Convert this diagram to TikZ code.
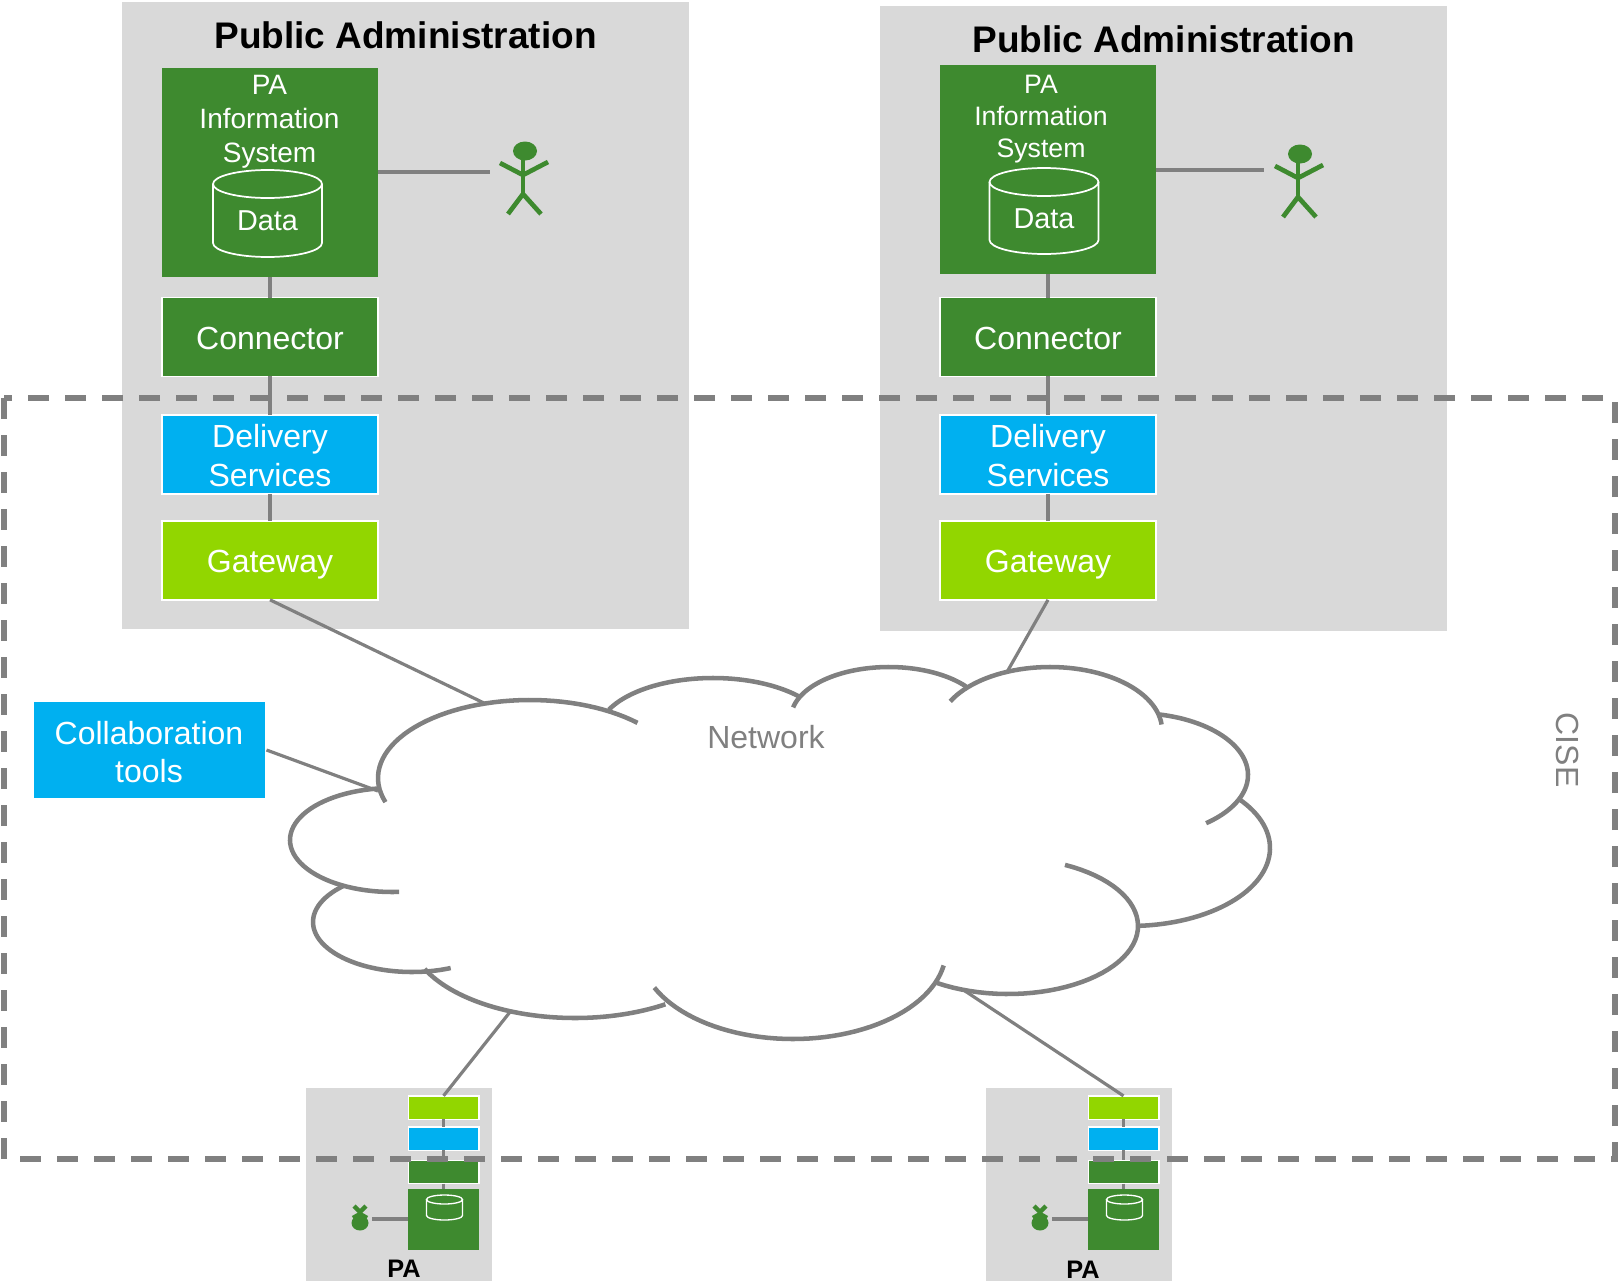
\documentclass[tikz,border=0pt]{standalone}
\usepackage{fontspec}
\setmainfont{Liberation Sans}
\definecolor{pagrey}{HTML}{D9D9D9}
\definecolor{pagreen}{HTML}{3E8A2F}
\definecolor{pablue}{HTML}{00B0F0}
\definecolor{palime}{HTML}{92D600}
\definecolor{paline}{HTML}{808080}
\tikzset{
  boxbase/.style={draw=white,line width=1.1pt,inner sep=0pt,outer sep=0pt,text=white,align=center,font=\fontsize{24}{29.2}\selectfont},
  greenbox/.style={boxbase,fill=pagreen},
  bluebox/.style={boxbase,fill=pablue},
  limebox/.style={boxbase,fill=palime},
  oneline/.style={text height=18.6pt,text depth=0pt},
  isbox/.style={fill=pagreen,draw=none,inner sep=0pt,outer sep=0pt},
  wide/.style={minimum width=162pt,minimum height=59pt},
  mini/.style={minimum width=53pt,minimum height=17.5pt,line width=1pt},
  link/.style={draw=paline,line width=2.8pt},
  cloudline/.style={draw=paline,line width=3.4pt},
  thinlink/.style={draw=paline,line width=2.4pt},
  cyl/.style={draw=white,line width=1.3pt},
  actorline/.style={draw=pagreen,line width=3.5pt},
  title/.style={font=\fontsize{27.75}{32}\bfseries\selectfont,text=black,inner sep=0pt},
  small/.style={font=\fontsize{19}{22}\bfseries\selectfont,text=black,inner sep=0pt},
  whitetext/.style={text=white,align=center,inner sep=0pt},
  greytext/.style={text=paline,inner sep=0pt,font=\fontsize{24}{28}\selectfont},
}
\newcommand{\lobe}[6]{\draw[cloudline,domain=#5:#6,samples=48,variable=\t] plot ({#1+#3*cos(\t)},{#2+#4*sin(\t)});}
\newcommand{\bigactor}[2]{%
  \fill[pagreen] (#1+2,#2) ellipse [x radius=12, y radius=9.5];
  \draw[actorline] (#1,#2) -- (#1,#2+44);
  \draw[actorline] (#1-23,#2+12) -- (#1,#2+24) -- (#1+25,#2+11);
  \draw[actorline] (#1-15,#2+63) -- (#1,#2+43) -- (#1+18,#2+63);
}
\newcommand{\smallactor}[2]{%
  \fill[pagreen] (#1,#2+18) ellipse [x radius=8.5, y radius=7.5];
  \draw[actorline,line width=3.4pt] (#1,#2+13) -- (#1,#2+6);
  \draw[actorline,line width=3.4pt] (#1-6,#2+1) -- (#1,#2+7) -- (#1+6,#2+1);
  \draw[actorline,line width=3.4pt] (#1-7,#2+13) -- (#1,#2+9) -- (#1+7,#2+13);
}
\newcommand{\cylinder}[6]{% cx, top, bottom, rx, ry, line style
  \draw[cyl,#6] (#1-#4,#2+#5) -- (#1-#4,#3-#5) .. controls (#1-#4,#3-#5*0.45) and (#1-#4*0.55,#3) .. (#1,#3)
     .. controls (#1+#4*0.55,#3) and (#1+#4,#3-#5*0.45) .. (#1+#4,#3-#5) -- (#1+#4,#2+#5);
  \draw[cyl,#6] (#1,#2+#5) ellipse [x radius=#4, y radius=#5];
}
\begin{document}
\begin{tikzpicture}[x=0.75pt,y=-0.75pt]
\useasboundingbox (0,0) rectangle (1619,1281);
% zones
\fill[pagrey] (122,2) rectangle (689,629);
\fill[pagrey] (880,6) rectangle (1447,631);
\fill[pagrey] (306,1088) rectangle (492,1281);
\fill[pagrey] (986,1088) rectangle (1172,1281);
\node[title] (t1) at (405.5,35) {Public Administration};
\node[title] (t2) at (1163.5,39) {Public Administration};
% cloud anchor points
\coordinate (cloudA) at (484,703);
\coordinate (cloudB) at (1007,672);
\coordinate (cloudC) at (378,791);
\coordinate (cloudD) at (510,1012);
\coordinate (cloudE) at (965,991);
\coordinate (actL) at (490,172);
\coordinate (actR) at (1264,170);
% boxes left
\node[isbox,minimum width=162pt,minimum height=156.75pt] (is1) at (270,172.5) {};
\node[greenbox,wide,oneline] (conn1) at (270,337) {Connector};
\node[bluebox,wide] (del1) at (270,454.5) {\rule{0pt}{19pt}Delivery\\Services};
\node[limebox,wide,oneline] (gw1) at (270,560.5) {Gateway};
% boxes right
\node[isbox,minimum width=162pt,minimum height=156.75pt] (is2) at (1048,169.5) {};
\node[greenbox,wide,oneline] (conn2) at (1048,337) {Connector};
\node[bluebox,wide] (del2) at (1048,454.5) {\rule{0pt}{19pt}Delivery\\Services};
\node[limebox,wide,oneline] (gw2) at (1048,560.5) {Gateway};
% IS text
\node[whitetext,font=\fontsize{21}{25.5}\selectfont] (ist1) at (269.5,122) {PA\\Information\\System};
\node[whitetext,font=\fontsize{20}{24}\selectfont] (ist2) at (1041,119) {PA\\Information\\System};
\cylinder{267.5}{170}{257}{54.5}{14}{}
\cylinder{1044}{168}{254}{54.5}{14}{}
\node[whitetext,font=\fontsize{21.6}{26}\selectfont] (d1) at (267.5,221) {Data};
\node[whitetext,font=\fontsize{21.6}{26}\selectfont] (d2) at (1044,219) {Data};
% connectors upper
\draw[link] (is1.south) -- (conn1.north);
\draw[link] (conn1.south) -- (del1.north);
\draw[link] (del1.south) -- (gw1.north);
\draw[link] (is2.south) -- (conn2.north);
\draw[link] (conn2.south) -- (del2.north);
\draw[link] (del2.south) -- (gw2.north);
\draw[link] (is1.east |- actL) -- (actL);
\draw[link] (is2.east |- actR) -- (actR);
\draw[thinlink] (gw1.south) -- (cloudA);
\draw[thinlink] (gw2.south) -- (cloudB);
\bigactor{523}{151}
\bigactor{1298}{154}
% collaboration
\node[boxbase,fill=pablue,draw=none,font=\fontsize{24}{28.6}\selectfont,minimum width=173.25pt,minimum height=72pt] (collab) at (149,750) {\rule{0pt}{20pt}Collaboration\\tools};
\draw[thinlink] (collab.east) ++(2,0) -- (cloudC);
% cloud
\lobe{530}{778}{152}{78}{162}{315}
\lobe{713}{733}{115}{55}{205}{318}
\lobe{889}{718}{98}{51}{192}{322}
\lobe{1050}{730}{112}{63}{207}{355}
\lobe{1135}{775}{113}{62}{-78}{51}
\lobe{1130}{848}{140}{78}{-39}{87}
\lobe{1008}{926}{130}{68}{-64}{123}
\lobe{793}{950}{153}{89}{10}{155}
\lobe{575}{933}{166}{85}{57}{155}
\lobe{412}{922}{99}{50}{67}{226}
\lobe{392}{840}{102}{52}{86}{262}
\node[greytext] (net) at (766,737) {Network};
\node[greytext,rotate=-90] (cise) at (1567,750) {CISE};
% mini PA left
\node[limebox,mini] (mg1) at (443.5,1107.5) {};
\node[bluebox,mini] (md1) at (443.5,1138.5) {};
\node[greenbox,mini] (mc1) at (443.5,1172) {};
\node[isbox,minimum width=53pt,minimum height=45.75pt] (mi1) at (443.5,1219.5) {};
\draw[link] (mg1.south) -- (md1.north);
\draw[link] (md1.south) -- (mc1.north);
\draw[link] (mc1.south) -- (mi1.north);
\cylinder{444.5}{1195}{1220}{18}{4.5}{line width=1pt}
\smallactor{360}{1205}
\coordinate (ma1) at (372,1219);
\draw[link] (mi1.west |- ma1) -- (ma1);
\draw[thinlink] (mg1.north) -- (cloudD);
\node[small] (p1) at (404,1269) {PA};
% mini PA right
\node[limebox,mini] (mg2) at (1123.5,1107.5) {};
\node[bluebox,mini] (md2) at (1123.5,1138.5) {};
\node[greenbox,mini] (mc2) at (1123.5,1172) {};
\node[isbox,minimum width=53pt,minimum height=45.75pt] (mi2) at (1123.5,1219.5) {};
\draw[link] (mg2.south) -- (md2.north);
\draw[link] (md2.south) -- (mc2.north);
\draw[link] (mc2.south) -- (mi2.north);
\cylinder{1124.5}{1195}{1220}{18}{4.5}{line width=1pt}
\smallactor{1040}{1205}
\coordinate (ma2) at (1052,1219);
\draw[link] (mi2.west |- ma2) -- (ma2);
\draw[thinlink] (mg2.north) -- (cloudE);
\node[small] (p2) at (1083,1270) {PA};
% CISE dashed boundary
\draw[draw=paline,line width=3.8pt,dash pattern=on 15.75pt off 12pt] (4,398) rectangle (1615,1159);
\end{tikzpicture}
\end{document}
